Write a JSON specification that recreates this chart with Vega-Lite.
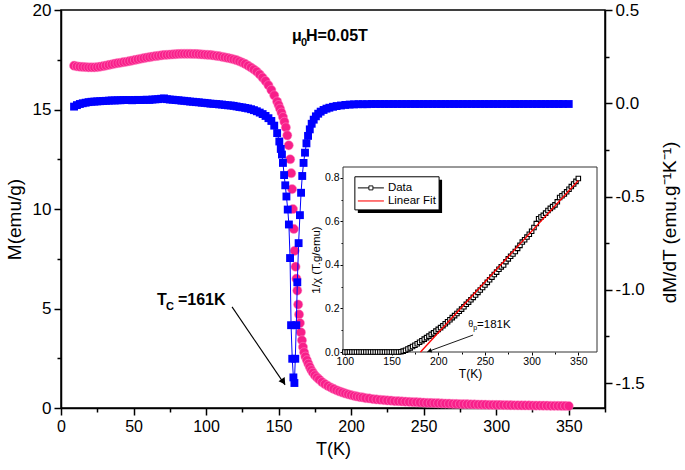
{
  "$schema": "https://vega.github.io/schema/vega-lite/v6.json",
  "width": 544,
  "height": 398,
  "autosize": {"type": "none"},
  "padding": {"left": 61, "top": 10, "right": 80, "bottom": 62},
  "background": "white",
  "config": {
    "view": {"stroke": "#000", "strokeWidth": 1.5},
    "axis": {"grid": false, "domainColor": "#000", "domainWidth": 1.5, "tickColor": "#000", "tickWidth": 1.5, "labelColor": "#000", "titleColor": "#000", "labelFont": "Liberation Sans", "titleFont": "Liberation Sans", "titleFontWeight": "normal", "labelOverlap": false, "labelFlush": false, "labelBound": false, "zindex": 1}
  },
  "datasets": {
    "pink": [
      {"T":9,"M":17.20},{"T":11,"M":17.17},{"T":13,"M":17.15},{"T":15,"M":17.14},{"T":17,"M":17.13},{"T":19,"M":17.12},{"T":21,"M":17.12},{"T":23,"M":17.12},{"T":25,"M":17.13},{"T":27,"M":17.15},{"T":29,"M":17.18},{"T":31,"M":17.21},{"T":33,"M":17.24},{"T":35,"M":17.27},{"T":37,"M":17.30},{"T":39,"M":17.33},{"T":41,"M":17.35},{"T":43,"M":17.38},{"T":45,"M":17.40},{"T":47,"M":17.43},{"T":49,"M":17.46},{"T":51,"M":17.49},{"T":53,"M":17.52},{"T":55,"M":17.55},{"T":57,"M":17.58},{"T":59,"M":17.61},{"T":61,"M":17.63},{"T":63,"M":17.66},{"T":65,"M":17.68},{"T":67,"M":17.70},{"T":69,"M":17.72},{"T":71,"M":17.74},{"T":73,"M":17.75},{"T":75,"M":17.76},{"T":77,"M":17.77},{"T":79,"M":17.78},{"T":81,"M":17.79},{"T":83,"M":17.80},{"T":85,"M":17.80},{"T":87,"M":17.80},{"T":89,"M":17.80},{"T":91,"M":17.79},{"T":93,"M":17.79},{"T":95,"M":17.78},{"T":97,"M":17.77},{"T":99,"M":17.76},{"T":101,"M":17.75},{"T":103,"M":17.74},{"T":105,"M":17.72},{"T":107,"M":17.70},{"T":109,"M":17.68},{"T":111,"M":17.65},{"T":113,"M":17.62},{"T":115,"M":17.59},{"T":117,"M":17.56},{"T":119,"M":17.52},{"T":121,"M":17.48},{"T":123,"M":17.42},{"T":125,"M":17.36},{"T":127,"M":17.29},{"T":129,"M":17.20},{"T":131,"M":17.11},{"T":133,"M":17.01},{"T":135,"M":16.90},{"T":137,"M":16.76},{"T":139,"M":16.60},{"T":141,"M":16.43},{"T":143,"M":16.22},{"T":145,"M":15.98},{"T":147,"M":15.71},{"T":149,"M":15.40},{"T":150,"M":15.22},{"T":151,"M":15.04},{"T":152,"M":14.84},{"T":153,"M":14.62},{"T":154,"M":14.38},{"T":155,"M":14.10},{"T":156,"M":13.70},{"T":157,"M":13.20},{"T":158,"M":12.50},{"T":158.7,"M":11.80},{"T":159.3,"M":11.00},{"T":159.9,"M":10.00},{"T":160.5,"M":9.00},{"T":161.1,"M":7.90},{"T":161.7,"M":7.10},{"T":162.3,"M":6.50},{"T":162.9,"M":5.90},{"T":163.5,"M":5.20},{"T":164.1,"M":4.70},{"T":164.7,"M":4.27},{"T":165.4,"M":3.80},{"T":166.1,"M":3.40},{"T":166.8,"M":3.07},{"T":167.6,"M":2.80},{"T":168.5,"M":2.58},{"T":169.5,"M":2.40},{"T":170.5,"M":2.22},{"T":171.5,"M":2.06},{"T":172.6,"M":1.90},{"T":173.7,"M":1.77},{"T":175,"M":1.64},{"T":176.5,"M":1.53},{"T":178,"M":1.43},{"T":180,"M":1.30},{"T":182,"M":1.20},{"T":184,"M":1.11},{"T":186,"M":1.03},{"T":188,"M":0.96},{"T":190,"M":0.89},{"T":192,"M":0.83},{"T":194,"M":0.78},{"T":196,"M":0.73},{"T":198,"M":0.69},{"T":200,"M":0.65},{"T":202,"M":0.61},{"T":204,"M":0.58},{"T":206,"M":0.55},{"T":208,"M":0.53},{"T":210,"M":0.50},{"T":212.5,"M":0.48},{"T":215,"M":0.45},{"T":217.5,"M":0.43},{"T":220,"M":0.415},{"T":222.5,"M":0.40},{"T":225,"M":0.38},{"T":227.5,"M":0.37},{"T":230,"M":0.35},{"T":232.5,"M":0.34},{"T":235,"M":0.33},{"T":237.5,"M":0.32},{"T":240,"M":0.31},{"T":242.5,"M":0.30},{"T":245,"M":0.29},{"T":247.5,"M":0.28},{"T":250,"M":0.27},{"T":252.5,"M":0.26},{"T":255,"M":0.255},{"T":257.5,"M":0.25},{"T":260,"M":0.24},{"T":262.5,"M":0.23},{"T":265,"M":0.225},{"T":267.5,"M":0.22},{"T":270,"M":0.21},{"T":272.5,"M":0.205},{"T":275,"M":0.20},{"T":277.5,"M":0.195},{"T":280,"M":0.19},{"T":282.5,"M":0.185},{"T":285,"M":0.18},{"T":287.5,"M":0.175},{"T":290,"M":0.17},{"T":292.5,"M":0.165},{"T":295,"M":0.16},{"T":297.5,"M":0.158},{"T":300,"M":0.155},{"T":302.5,"M":0.152},{"T":305,"M":0.15},{"T":307.5,"M":0.145},{"T":310,"M":0.14},{"T":312.5,"M":0.138},{"T":315,"M":0.135},{"T":317.5,"M":0.132},{"T":320,"M":0.13},{"T":322.5,"M":0.128},{"T":325,"M":0.125},{"T":327.5,"M":0.122},{"T":330,"M":0.12},{"T":332.5,"M":0.118},{"T":335,"M":0.115},{"T":337.5,"M":0.112},{"T":340,"M":0.11},{"T":342.5,"M":0.108},{"T":345,"M":0.105},{"T":347.5,"M":0.102},{"T":350,"M":0.10}
    ],
    "blue": [
      {"T":9,"D":-0.018},{"T":11,"D":-0.010},{"T":13,"D":-0.004},{"T":15,"D":0.000},{"T":17,"D":0.003},{"T":19,"D":0.006},{"T":21,"D":0.008},{"T":23,"D":0.009},{"T":25,"D":0.010},{"T":27,"D":0.011},{"T":29,"D":0.012},{"T":31,"D":0.013},{"T":33,"D":0.014},{"T":35,"D":0.015},{"T":37,"D":0.015},{"T":39,"D":0.016},{"T":41,"D":0.016},{"T":43,"D":0.017},{"T":45,"D":0.017},{"T":47,"D":0.017},{"T":49,"D":0.016},{"T":51,"D":0.017},{"T":53,"D":0.018},{"T":55,"D":0.017},{"T":57,"D":0.018},{"T":59,"D":0.019},{"T":61,"D":0.018},{"T":63,"D":0.020},{"T":65,"D":0.021},{"T":67,"D":0.022},{"T":69,"D":0.024},{"T":71,"D":0.026},{"T":73,"D":0.022},{"T":75,"D":0.020},{"T":77,"D":0.019},{"T":79,"D":0.017},{"T":81,"D":0.016},{"T":83,"D":0.014},{"T":85,"D":0.013},{"T":87,"D":0.011},{"T":89,"D":0.009},{"T":91,"D":0.008},{"T":93,"D":0.006},{"T":95,"D":0.005},{"T":97,"D":0.003},{"T":99,"D":0.002},{"T":101,"D":0.000},{"T":103,"D":-0.002},{"T":105,"D":-0.003},{"T":107,"D":-0.004},{"T":109,"D":-0.006},{"T":111,"D":-0.007},{"T":113,"D":-0.009},{"T":115,"D":-0.011},{"T":117,"D":-0.012},{"T":119,"D":-0.014},{"T":121,"D":-0.017},{"T":123,"D":-0.020},{"T":125,"D":-0.022},{"T":127,"D":-0.025},{"T":129,"D":-0.028},{"T":131,"D":-0.032},{"T":133,"D":-0.037},{"T":135,"D":-0.043},{"T":137,"D":-0.050},{"T":139,"D":-0.058},{"T":141,"D":-0.068},{"T":143,"D":-0.080},{"T":145,"D":-0.095},{"T":147,"D":-0.120},{"T":149,"D":-0.160},{"T":150.5,"D":-0.205},{"T":151.5,"D":-0.245},{"T":152.3,"D":-0.275},{"T":153.0,"D":-0.320},{"T":153.8,"D":-0.385},{"T":154.6,"D":-0.440},{"T":155.4,"D":-0.500},{"T":156.3,"D":-0.570},{"T":157.1,"D":-0.650},{"T":157.9,"D":-0.830},{"T":158.6,"D":-1.190},{"T":159.4,"D":-1.370},{"T":160.2,"D":-1.470},{"T":160.9,"D":-1.500},{"T":161.5,"D":-1.370},{"T":162.2,"D":-1.190},{"T":162.9,"D":-0.960},{"T":163.8,"D":-0.750},{"T":164.7,"D":-0.600},{"T":165.5,"D":-0.480},{"T":166.3,"D":-0.390},{"T":167.2,"D":-0.320},{"T":168.2,"D":-0.265},{"T":169.2,"D":-0.215},{"T":170.3,"D":-0.175},{"T":171.5,"D":-0.140},{"T":172.8,"D":-0.110},{"T":174.2,"D":-0.088},{"T":175.7,"D":-0.070},{"T":177.3,"D":-0.056},{"T":179,"D":-0.045},{"T":181,"D":-0.036},{"T":183,"D":-0.029},{"T":185,"D":-0.024},{"T":187.5,"D":-0.019},{"T":190,"D":-0.015},{"T":193,"D":-0.012},{"T":196,"D":-0.009},{"T":199,"D":-0.007},{"T":202,"D":-0.006},{"T":205,"D":-0.005},{"T":208,"D":-0.005},{"T":211,"D":-0.005},{"T":214,"D":-0.004},{"T":217,"D":-0.004},{"T":220,"D":-0.004},{"T":223,"D":-0.004},{"T":226,"D":-0.004},{"T":229,"D":-0.004},{"T":232,"D":-0.004},{"T":235,"D":-0.004},{"T":238,"D":-0.004},{"T":241,"D":-0.004},{"T":244,"D":-0.004},{"T":247,"D":-0.004},{"T":250,"D":-0.004},{"T":253,"D":-0.004},{"T":256,"D":-0.004},{"T":259,"D":-0.004},{"T":262,"D":-0.004},{"T":265,"D":-0.004},{"T":268,"D":-0.004},{"T":271,"D":-0.004},{"T":274,"D":-0.004},{"T":277,"D":-0.004},{"T":280,"D":-0.004},{"T":283,"D":-0.004},{"T":286,"D":-0.004},{"T":289,"D":-0.004},{"T":292,"D":-0.004},{"T":295,"D":-0.004},{"T":298,"D":-0.004},{"T":301,"D":-0.004},{"T":304,"D":-0.004},{"T":307,"D":-0.004},{"T":310,"D":-0.004},{"T":313,"D":-0.004},{"T":316,"D":-0.004},{"T":319,"D":-0.004},{"T":322,"D":-0.004},{"T":325,"D":-0.004},{"T":328,"D":-0.004},{"T":331,"D":-0.004},{"T":334,"D":-0.004},{"T":337,"D":-0.004},{"T":340,"D":-0.004},{"T":343,"D":-0.004},{"T":346,"D":-0.004},{"T":350,"D":-0.004}
    ],
    "inset": [
      {"T":100,"R":0},{"T":102.5,"R":0},{"T":105,"R":0},{"T":107.5,"R":0},{"T":110,"R":0},{"T":112.5,"R":0},{"T":115,"R":0},{"T":117.5,"R":0},{"T":120,"R":0},{"T":122.5,"R":0},{"T":125,"R":0},{"T":127.5,"R":0},{"T":130,"R":0},{"T":132.5,"R":0},{"T":135,"R":0},{"T":137.5,"R":0},{"T":140,"R":0},{"T":142.5,"R":0},{"T":145,"R":0},{"T":147.5,"R":0},{"T":150,"R":0},{"T":152.5,"R":0},{"T":155,"R":0},{"T":157.5,"R":0},{"T":160,"R":0.001},{"T":162.5,"R":0.004},{"T":165,"R":0.008},{"T":167.5,"R":0.014},{"T":170,"R":0.019},{"T":172.5,"R":0.025},{"T":175,"R":0.031},{"T":177.5,"R":0.038},{"T":180,"R":0.045},{"T":182.5,"R":0.052},{"T":185,"R":0.059},{"T":187.5,"R":0.066},{"T":190,"R":0.073},{"T":192.5,"R":0.081},{"T":195,"R":0.088},{"T":197.5,"R":0.096},{"T":200,"R":0.104},{"T":202.5,"R":0.112},{"T":205,"R":0.121},{"T":207.5,"R":0.130},{"T":210,"R":0.139},{"T":212.5,"R":0.148},{"T":215,"R":0.158},{"T":217.5,"R":0.167},{"T":220,"R":0.177},{"T":222.5,"R":0.187},{"T":225,"R":0.197},{"T":227.5,"R":0.208},{"T":230,"R":0.219},{"T":232.5,"R":0.229},{"T":235,"R":0.240},{"T":237.5,"R":0.251},{"T":240,"R":0.262},{"T":242.5,"R":0.274},{"T":245,"R":0.285},{"T":247.5,"R":0.296},{"T":250,"R":0.308},{"T":252.5,"R":0.320},{"T":255,"R":0.332},{"T":257.5,"R":0.344},{"T":260,"R":0.356},{"T":262.5,"R":0.367},{"T":265,"R":0.380},{"T":267.5,"R":0.391},{"T":270,"R":0.400},{"T":272.5,"R":0.415},{"T":275,"R":0.428},{"T":277.5,"R":0.440},{"T":280,"R":0.450},{"T":282.5,"R":0.462},{"T":285,"R":0.476},{"T":287.5,"R":0.490},{"T":290,"R":0.505},{"T":292.5,"R":0.516},{"T":295,"R":0.528},{"T":297.5,"R":0.541},{"T":300,"R":0.555},{"T":302.5,"R":0.572},{"T":305,"R":0.590},{"T":307.5,"R":0.612},{"T":310,"R":0.620},{"T":312.5,"R":0.628},{"T":315,"R":0.638},{"T":317.5,"R":0.650},{"T":320,"R":0.660},{"T":322.5,"R":0.668},{"T":325,"R":0.676},{"T":327.5,"R":0.690},{"T":330,"R":0.710},{"T":332.5,"R":0.718},{"T":335,"R":0.726},{"T":337.5,"R":0.736},{"T":340,"R":0.748},{"T":342.5,"R":0.760},{"T":345,"R":0.772},{"T":347.5,"R":0.784},{"T":350,"R":0.797}
    ]
  },
  "layer": [
    {
      "data": {"name": "pink"},
      "mark": {"type": "point", "shape": "circle", "filled": true, "size": 85, "fill": "#f81f8a", "stroke": "#ff8fc6", "strokeWidth": 0.5, "opacity": 1},
      "encoding": {
        "x": {"field": "T", "type": "quantitative", "scale": {"domain": [0, 375], "nice": false, "zero": false},
          "axis": {"orient": "bottom", "values": [0,25,50,75,100,125,150,175,200,225,250,275,300,325,350,375], "labelExpr": "datum.value % 50 === 0 ? datum.label : ''", "tickSize": {"condition": {"test": "datum.value % 50 === 0", "value": 7}, "value": 4}, "labelFontSize": 16, "labelPadding": 3, "title": "T(K)", "titleFontSize": 18, "titlePadding": 6}},
        "y": {"field": "M", "type": "quantitative", "scale": {"domain": [0, 20], "nice": false, "zero": false},
          "axis": {"orient": "left", "values": [0,2.5,5,7.5,10,12.5,15,17.5,20], "labelExpr": "datum.value % 5 === 0 ? datum.label : ''", "tickSize": {"condition": {"test": "datum.value % 5 === 0", "value": 7}, "value": 4}, "labelFontSize": 17, "labelPadding": 3, "title": "M(emu/g)", "titleFontSize": 19, "titleX": -47, "titleY": 209, "titleAlign": "center", "titleBaseline": "middle", "titleAngle": 270}}
      }
    },
    {
      "data": {"name": "blue"},
      "mark": {"type": "line", "color": "#0000ff", "strokeWidth": 1, "point": {"shape": "square", "filled": true, "size": 62, "color": "#0000ff", "opacity": 1}},
      "encoding": {
        "x": {"field": "T", "type": "quantitative", "scale": {"domain": [0, 375], "nice": false, "zero": false}, "axis": null},
        "y": {"field": "D", "type": "quantitative", "scale": {"domain": [-1.634, 0.5], "nice": false, "zero": false},
          "axis": {"orient": "right", "values": [-1.5,-1.25,-1,-0.75,-0.5,-0.25,0,0.25,0.5], "labelExpr": "abs(datum.value*2 - round(datum.value*2)) < 0.001 ? replace(format(datum.value, '.1f'), '\u2212', '-') : ''", "tickSize": {"condition": {"test": "abs(datum.value*2 - round(datum.value*2)) < 0.001", "value": 7}, "value": 4}, "labelFontSize": 17, "labelPadding": 3, "title": "dM/dT (emu.g\u207b\u00b9K\u207b\u00b9)", "titleAngle": 270, "titleFontSize": 19, "titleX": 64, "titleY": 212, "titleAlign": "center", "titleBaseline": "middle"}}
      }
    },
    {
      "data": {"values": [{"T": 117.9, "M": 5.08, "T2": 154.4, "M2": 1.16}]},
      "mark": {"type": "rule", "color": "#000", "strokeWidth": 1.1},
      "encoding": {
        "x": {"field": "T", "type": "quantitative", "scale": {"domain": [0, 375], "nice": false, "zero": false}, "axis": null},
        "x2": {"field": "T2"},
        "y": {"field": "M", "type": "quantitative", "scale": {"domain": [0, 20], "nice": false, "zero": false}, "axis": null},
        "y2": {"field": "M2"}
      }
    },
    {
      "data": {"values": [{"T": 152.9, "M": 1.36}]},
      "mark": {"type": "point", "shape": "triangle", "size": 55, "filled": true, "color": "#000", "opacity": 1, "angle": 146},
      "encoding": {
        "x": {"field": "T", "type": "quantitative", "scale": {"domain": [0, 375], "nice": false, "zero": false}, "axis": null},
        "y": {"field": "M", "type": "quantitative", "scale": {"domain": [0, 20], "nice": false, "zero": false}, "axis": null}
      }
    },
    {
      "data": {"values": [{"T": 159.2, "M": 18.44, "label": "μ"}, {"T": 168.9, "M": 18.44, "label": "H=0.05T"}, {"T": 66.2, "M": 5.18, "label": "T"}, {"T": 80.6, "M": 5.18, "label": "=161K"}]},
      "mark": {"type": "text", "align": "left", "baseline": "alphabetic", "font": "Liberation Sans", "fontWeight": "bold", "fontSize": 16, "color": "#000"},
      "encoding": {
        "x": {"field": "T", "type": "quantitative", "scale": {"domain": [0, 375], "nice": false, "zero": false}, "axis": null},
        "y": {"field": "M", "type": "quantitative", "scale": {"domain": [0, 20], "nice": false, "zero": false}, "axis": null},
        "text": {"field": "label"}
      }
    },
    {
      "data": {"values": [{"T": 165.4, "M": 18.19, "label": "0"}, {"T": 72.4, "M": 4.92, "label": "C"}]},
      "mark": {"type": "text", "align": "left", "baseline": "alphabetic", "font": "Liberation Sans", "fontWeight": "bold", "fontSize": 11, "color": "#000"},
      "encoding": {
        "x": {"field": "T", "type": "quantitative", "scale": {"domain": [0, 375], "nice": false, "zero": false}, "axis": null},
        "y": {"field": "M", "type": "quantitative", "scale": {"domain": [0, 20], "nice": false, "zero": false}, "axis": null},
        "text": {"field": "label"}
      }
    },
    {
      "data": {"values": [{"T": 98, "T2": 370, "R": 0, "R2": 0.85}]},
      "mark": {"type": "rect", "fill": "white", "stroke": "#333", "strokeWidth": 1},
      "encoding": {
        "x": {"field": "T", "type": "quantitative", "scale": {"domain": [98, 370], "range": [282, 536], "nice": false, "zero": false},
          "axis": {"orient": "bottom", "offset": -56, "domain": false, "values": [100,125,150,175,200,225,250,275,300,325,350], "labelExpr": "datum.value % 50 === 0 ? datum.label : ''", "tickSize": {"condition": {"test": "datum.value % 50 === 0", "value": 3}, "value": 2}, "tickWidth": 1, "labelFontSize": 10.5, "labelPadding": 1, "title": "T(K)", "titleFontSize": 12, "titlePadding": 2}},
        "x2": {"field": "T2"},
        "y": {"field": "R", "type": "quantitative", "scale": {"domain": [0, 0.85], "range": [342, 157], "nice": false, "zero": false},
          "axis": {"orient": "left", "offset": -282, "domain": false, "values": [0,0.1,0.2,0.3,0.4,0.5,0.6,0.7,0.8], "labelExpr": "round(datum.value*10) % 2 === 0 ? format(datum.value, '.1f') : ''", "tickSize": {"condition": {"test": "round(datum.value*10) % 2 === 0", "value": 3}, "value": 2}, "tickWidth": 1, "labelFontSize": 10.5, "labelPadding": 1, "title": "1/χ (T.g/emu)", "titleFontSize": 11.5, "titlePadding": 3}},
        "y2": {"field": "R2"}
      }
    },
    {
      "data": {"name": "inset"},
      "mark": {"type": "line", "color": "#000", "strokeWidth": 1, "point": {"shape": "square", "filled": true, "size": 20, "fill": "white", "stroke": "#000", "strokeWidth": 1.1, "opacity": 1}},
      "encoding": {
        "x": {"field": "T", "type": "quantitative", "scale": {"domain": [98, 370], "range": [282, 536], "nice": false, "zero": false}, "axis": null},
        "y": {"field": "R", "type": "quantitative", "scale": {"domain": [0, 0.85], "range": [342, 157], "nice": false, "zero": false}, "axis": null}
      }
    },
    {
      "data": {"values": [{"T": 181, "R": 0}, {"T": 350, "R": 0.788}]},
      "mark": {"type": "line", "color": "#ff0000", "strokeWidth": 1.3},
      "encoding": {
        "x": {"field": "T", "type": "quantitative", "scale": {"domain": [98, 370], "range": [282, 536], "nice": false, "zero": false}, "axis": null},
        "y": {"field": "R", "type": "quantitative", "scale": {"domain": [0, 0.85], "range": [342, 157], "nice": false, "zero": false}, "axis": null}
      }
    },
    {
      "data": {"values": [{"T": 113.9, "T2": 204.1, "R": 0.791, "R2": 0.639}]},
      "mark": {"type": "rect", "fill": "#000"},
      "encoding": {
        "x": {"field": "T", "type": "quantitative", "scale": {"domain": [98, 370], "range": [282, 536], "nice": false, "zero": false}, "axis": null},
        "x2": {"field": "T2"},
        "y": {"field": "R", "type": "quantitative", "scale": {"domain": [0, 0.85], "range": [342, 157], "nice": false, "zero": false}, "axis": null},
        "y2": {"field": "R2"}
      }
    },
    {
      "data": {"values": [{"T": 110.7, "T2": 200.9, "R": 0.805, "R2": 0.653}]},
      "mark": {"type": "rect", "fill": "white", "stroke": "#000", "strokeWidth": 1},
      "encoding": {
        "x": {"field": "T", "type": "quantitative", "scale": {"domain": [98, 370], "range": [282, 536], "nice": false, "zero": false}, "axis": null},
        "x2": {"field": "T2"},
        "y": {"field": "R", "type": "quantitative", "scale": {"domain": [0, 0.85], "range": [342, 157], "nice": false, "zero": false}, "axis": null},
        "y2": {"field": "R2"}
      }
    },
    {
      "data": {"values": [{"T": 113.9, "T2": 141.8, "R": 0.754}]},
      "mark": {"type": "rule", "color": "#000", "strokeWidth": 1},
      "encoding": {
        "x": {"field": "T", "type": "quantitative", "scale": {"domain": [98, 370], "range": [282, 536], "nice": false, "zero": false}, "axis": null},
        "x2": {"field": "T2"},
        "y": {"field": "R", "type": "quantitative", "scale": {"domain": [0, 0.85], "range": [342, 157], "nice": false, "zero": false}, "axis": null}
      }
    },
    {
      "data": {"values": [{"T": 127.9, "R": 0.754}]},
      "mark": {"type": "point", "shape": "square", "filled": true, "size": 16, "fill": "white", "stroke": "#000", "strokeWidth": 0.9, "opacity": 1},
      "encoding": {
        "x": {"field": "T", "type": "quantitative", "scale": {"domain": [98, 370], "range": [282, 536], "nice": false, "zero": false}, "axis": null},
        "y": {"field": "R", "type": "quantitative", "scale": {"domain": [0, 0.85], "range": [342, 157], "nice": false, "zero": false}, "axis": null}
      }
    },
    {
      "data": {"values": [{"T": 113.9, "T2": 141.8, "R": 0.694}]},
      "mark": {"type": "rule", "color": "#ff3030", "strokeWidth": 1.3},
      "encoding": {
        "x": {"field": "T", "type": "quantitative", "scale": {"domain": [98, 370], "range": [282, 536], "nice": false, "zero": false}, "axis": null},
        "x2": {"field": "T2"},
        "y": {"field": "R", "type": "quantitative", "scale": {"domain": [0, 0.85], "range": [342, 157], "nice": false, "zero": false}, "axis": null}
      }
    },
    {
      "data": {"values": [{"T": 146.1, "R": 0.742, "label": "Data"}, {"T": 146.1, "R": 0.680, "label": "Linear Fit"}, {"T": 241.6, "R": 0.110, "label": "=181K"}]},
      "mark": {"type": "text", "align": "left", "baseline": "alphabetic", "font": "Liberation Sans", "fontSize": 11.5, "color": "#000"},
      "encoding": {
        "x": {"field": "T", "type": "quantitative", "scale": {"domain": [98, 370], "range": [282, 536], "nice": false, "zero": false}, "axis": null},
        "y": {"field": "R", "type": "quantitative", "scale": {"domain": [0, 0.85], "range": [342, 157], "nice": false, "zero": false}, "axis": null},
        "text": {"field": "label"}
      }
    },
    {
      "data": {"values": [{"T": 232, "R": 0.115, "label": "θ"}]},
      "mark": {"type": "text", "align": "left", "baseline": "alphabetic", "font": "Liberation Sans", "fontSize": 9, "color": "#000"},
      "encoding": {
        "x": {"field": "T", "type": "quantitative", "scale": {"domain": [98, 370], "range": [282, 536], "nice": false, "zero": false}, "axis": null},
        "y": {"field": "R", "type": "quantitative", "scale": {"domain": [0, 0.85], "range": [342, 157], "nice": false, "zero": false}, "axis": null},
        "text": {"field": "label"}
      }
    },
    {
      "data": {"values": [{"T": 237.5, "R": 0.100, "label": "p"}]},
      "mark": {"type": "text", "align": "left", "baseline": "alphabetic", "font": "Liberation Sans", "fontSize": 7, "color": "#000"},
      "encoding": {
        "x": {"field": "T", "type": "quantitative", "scale": {"domain": [98, 370], "range": [282, 536], "nice": false, "zero": false}, "axis": null},
        "y": {"field": "R", "type": "quantitative", "scale": {"domain": [0, 0.85], "range": [342, 157], "nice": false, "zero": false}, "axis": null},
        "text": {"field": "label"}
      }
    },
    {
      "data": {"values": [{"T": 237.3, "R": 0.078, "T2": 188.3, "R2": 0.001}]},
      "mark": {"type": "rule", "color": "#000", "strokeWidth": 0.9},
      "encoding": {
        "x": {"field": "T", "type": "quantitative", "scale": {"domain": [98, 370], "range": [282, 536], "nice": false, "zero": false}, "axis": null},
        "x2": {"field": "T2"},
        "y": {"field": "R", "type": "quantitative", "scale": {"domain": [0, 0.85], "range": [342, 157], "nice": false, "zero": false}, "axis": null},
        "y2": {"field": "R2"}
      }
    },
    {
      "data": {"values": [{"T": 191.3, "R": 0.006}]},
      "mark": {"type": "point", "shape": "triangle", "size": 22, "filled": true, "color": "#000", "opacity": 1, "angle": 250},
      "encoding": {
        "x": {"field": "T", "type": "quantitative", "scale": {"domain": [98, 370], "range": [282, 536], "nice": false, "zero": false}, "axis": null},
        "y": {"field": "R", "type": "quantitative", "scale": {"domain": [0, 0.85], "range": [342, 157], "nice": false, "zero": false}, "axis": null}
      }
    }
  ],
  "resolve": {"scale": {"x": "independent", "y": "independent"}}
}
